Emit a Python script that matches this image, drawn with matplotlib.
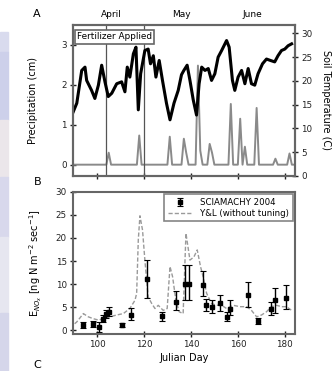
import numpy as np
import matplotlib.pyplot as plt
from matplotlib.patches import Rectangle

# Panel A: soil temperature (C)
temp_day = [89.9, 91.4, 93.5, 94.9, 95.6, 97.7, 99.1, 100.6, 102.0, 103.4, 104.8, 106.3,
            108.4, 110.5, 111.9, 112.9, 114.0, 115.5, 116.6, 117.6, 118.6, 120.4, 121.8,
            122.8, 124.0, 125.1, 126.5, 127.9, 129.6, 131.1, 132.8, 134.6, 136.0, 137.0,
            138.4, 139.6, 141.0, 142.4, 143.5, 144.6, 146.0, 147.4, 148.8, 150.2, 151.6,
            153.1, 155.2, 156.3, 157.7, 158.7, 160.1, 161.6, 163.0, 164.4, 165.8, 167.2,
            168.6, 170.5, 172.2, 173.9, 175.7, 177.1, 178.6, 180.0, 181.4, 182.9]
temp_c = [13.5, 15.3, 22.2, 22.9, 20.1, 18.0, 16.3, 19.1, 23.3, 19.8, 16.7, 17.4,
          19.4, 19.8, 17.7, 22.9, 20.8, 25.7, 27.1, 13.9, 21.5, 26.4, 26.7,
          23.6, 25.3, 20.8, 24.3, 20.1, 15.3, 11.8, 15.3, 18.0, 21.3, 22.2,
          23.3, 20.1, 16.0, 12.8, 19.4, 22.9, 22.2, 22.6, 20.1, 21.5, 25.0,
          26.4, 28.5, 27.1, 20.1, 18.0, 20.8, 22.2, 19.4, 22.6, 19.4, 19.1,
          21.5, 23.6, 24.6, 24.3, 24.0, 25.3, 26.4, 26.7, 27.4, 27.8]

# Panel A: precipitation (cm), rainy days only, all other days are 0
rain_day = [105, 118, 131, 137, 138, 143, 144, 148, 149, 157, 161, 163, 168, 176, 182]
rain_cm = [0.3, 0.73, 0.7, 0.65, 0.3, 2.48, 0.35, 0.52, 0.3, 1.52, 1.15, 0.45, 1.42, 0.15, 0.28]
fert_days = [104, 120]
months = ["April", "May", "June"]
month_mid = [106, 136, 166]

# Panel B: SCIAMACHY 2004 emissions with error bars
sc_day = [94.2, 98.2, 101.0, 102.4, 103.8, 105.2, 110.5, 114.3, 121.1, 127.5, 133.6,
          137.4, 139.4, 145.2, 146.4, 149.2, 152.3, 155.2, 156.6, 164.4, 168.6,
          174.3, 175.7, 180.4]
sc_val = [1.1, 1.4, 0.7, 2.5, 3.5, 4.0, 1.1, 3.3, 11.2, 3.0, 6.2,
          10.1, 10.1, 9.8, 5.4, 5.1, 5.8, 2.9, 4.7, 7.6, 2.0,
          4.7, 6.5, 6.9]
sc_lo = [0.6, 0.6, 1.0, 0.8, 0.8, 1.0, 0.5, 1.0, 4.2, 1.0, 1.9,
         3.6, 3.6, 2.4, 1.3, 1.3, 1.6, 1.0, 1.5, 2.5, 0.7,
         1.3, 2.8, 2.4]
sc_hi = [0.6, 0.6, 1.0, 0.8, 0.8, 1.0, 0.5, 1.5, 4.0, 1.0, 2.3,
         4.0, 4.0, 3.0, 1.3, 1.5, 1.8, 1.0, 1.8, 2.9, 0.7,
         1.5, 2.6, 3.0]

# Panel B: Y&L model (dashed)
yl_day = [90.5, 91.4, 94.2, 96.3, 98.4, 100.6, 102.7, 105.5, 108.4, 111.2, 114.0, 116.2,
          116.9, 117.6, 118.3, 119.4, 120.4, 121.8, 123.3, 124.7, 126.1, 128.2, 129.9,
          131.1, 132.2, 133.6, 135.0, 136.7, 137.9, 139.6, 141.3, 142.7, 144.1, 145.2,
          146.7, 148.8, 150.9, 153.1, 155.2, 158.0, 160.9, 163.7, 165.8, 168.0, 170.1,
          172.2, 174.3, 176.5, 178.6, 180.7, 182.9]
yl_val = [1.4, 1.8, 3.6, 2.9, 2.5, 2.2, 2.5, 2.9, 3.3, 3.6, 4.7, 6.5,
          8.0, 19.6, 24.8, 21.7, 15.2, 7.2, 5.8, 4.7, 5.4, 4.3, 4.7,
          13.8, 11.6, 6.5, 4.0, 3.6, 21.0, 15.2, 15.9, 17.4, 13.8, 11.6,
          8.0, 5.8, 5.4, 5.4, 4.7, 5.4, 5.1, 5.1, 4.3, 2.9, 3.3,
          4.0, 5.1, 5.4, 5.1, 5.1, 4.3]

all_days = np.arange(90, 185)
precip = np.zeros(len(all_days))
for d, r in zip(rain_day, rain_cm):
    precip[all_days == d] = r

frame = '#666666'
fs = 6.3

fig = plt.figure(figsize=(3.35, 3.71), dpi=100)

# left background strip (slide edge)
strip = [(32, 52, '#d9dbee'), (52, 120, '#cdd0ea'), (120, 177, '#ebe6ea'),
         (177, 237, '#d8d8ec'), (237, 313, '#e6e6f0'), (313, 371, '#d5d6ea')]
for top, bot, col in strip:
    fig.patches.append(Rectangle((0, 1 - bot / 371), 8 / 335, (bot - top) / 371,
                                 transform=fig.transFigure, color=col, zorder=0))


def style(ax):
    for s in ax.spines.values():
        s.set_color(frame)
        s.set_linewidth(1.5)
    ax.tick_params(direction='inout', length=5, width=1, colors='#222222',
                   labelsize=fs, pad=2)


# ---- panel A
axA = fig.add_axes([0.218, 0.526, 0.663, 0.407])
axT = axA.twinx()
axA.plot(all_days, precip, color='#8a8a8a', lw=1.4, zorder=2)
for d in fert_days:
    axA.axvline(d, color='#555555', lw=0.9)
axT.plot(temp_day, temp_c, color='black', lw=2.2)
axA.set_xlim(89.8, 184.4)
axA.set_ylim(-0.28, 3.5)
axT.set_ylim(0, 31.8)
axA.set_yticks([0, 1, 2, 3])
axT.set_yticks([0, 5, 10, 15, 20, 25, 30])
axA.set_xticks([100, 120, 140, 160, 180])
axA.set_xticklabels([])
style(axA)
style(axT)
axA.set_ylabel('Precipitation (cm)', fontsize=7, labelpad=17)
axT.set_ylabel('Soil Temperature (C)', fontsize=7, rotation=270, labelpad=13)
for m, d in zip(months, month_mid):
    axA.text(d, 1.07, m, transform=axA.get_xaxis_transform(), ha='center',
             va='center', fontsize=6.5)
axA.text(91.5, 3.2, 'Fertilizer Applied', fontsize=6.4, va='center', ha='left',
         bbox=dict(boxstyle='square,pad=0.25', fc='white', ec=frame, lw=1.2))

# ---- panel B
axB = fig.add_axes([0.218, 0.10, 0.663, 0.383])
axB.plot(yl_day, yl_val, color='#9a9a9a', lw=1.0, ls=(0, (3, 1.5)),
         label='Y&L (without tuning)')
axB.errorbar(sc_day, sc_val, yerr=[sc_lo, sc_hi], fmt='s', color='black', ms=3.5,
             elinewidth=1.0, capsize=2, capthick=0.8, label='SCIAMACHY 2004')
axB.set_xlim(89.8, 184.4)
axB.set_ylim(-0.8, 30)
axB.set_yticks([0, 5, 10, 15, 20, 25, 30])
axB.set_xticks([100, 120, 140, 160, 180])
style(axB)
axB.set_xlabel('Julian Day', fontsize=7, labelpad=3)
axB.set_ylabel('E$_{NO_x}$ [ng N m$^{-2}$ sec$^{-1}$]', fontsize=7, labelpad=8)
h, l = axB.get_legend_handles_labels()
leg = axB.legend(h[::-1], l[::-1], loc='upper right', fontsize=6.2, frameon=True,
                 fancybox=False, edgecolor=frame, handlelength=3.0,
                 borderaxespad=0.3, labelspacing=0.25)
leg.get_frame().set_linewidth(1.2)

fig.text(0.11, 0.962, 'A', fontsize=8, ha='center', va='center')
fig.text(0.113, 0.509, 'B', fontsize=8, ha='center', va='center')
fig.text(0.11, 0.002, 'C', fontsize=8, ha='center', va='bottom')

fig.savefig('out.png', dpi=100)
